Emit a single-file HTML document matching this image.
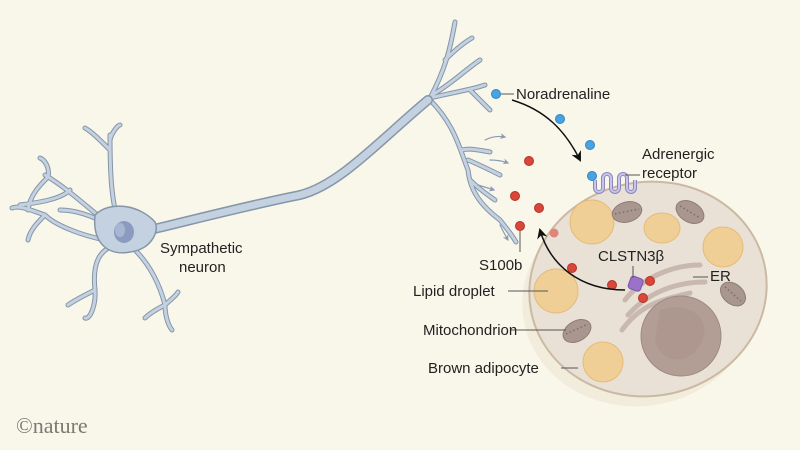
<!DOCTYPE html>
<html><head><meta charset="utf-8"><style>
html,body{margin:0;padding:0;background:#f9f6ea;}
svg{display:block}
text{font-family:"Liberation Sans",sans-serif;font-size:15px;fill:#222;}
</style></head><body>
<svg width="800" height="450" viewBox="0 0 800 450" xmlns="http://www.w3.org/2000/svg">
<rect width="800" height="450" fill="#f9f6ea"/>
<defs>
<marker id="ah" viewBox="0 0 10 10" refX="8" refY="5" markerWidth="7" markerHeight="7" orient="auto"><path d="M0,0 L10,5 L0,10 L3,5z" fill="#111"/></marker>
<marker id="ag" viewBox="0 0 10 10" refX="8" refY="5" markerWidth="5" markerHeight="5" orient="auto"><path d="M0,0 L10,5 L0,10 L3,5z" fill="#8a9bb0"/></marker>
</defs>
<!-- cell shadow -->
<ellipse cx="640" cy="300" rx="118" ry="106" fill="#f1ecdb" transform="rotate(-10 640 300)"/>
<!-- neuron -->
<g fill="none" stroke-linecap="round" stroke-linejoin="round">
<g stroke="#8596a8" stroke-width="5">
<path d="M110,225 C90,210 70,190 45,175 M70,190 C60,200 35,203 20,205 M48,177 C50,168 45,160 40,158 M48,177 C40,185 30,195 28,210"/>
<path d="M118,222 C112,200 110,180 110,135 M110,150 C100,140 92,132 85,128 M110,140 C112,132 118,125 120,125"/>
<path d="M110,225 C90,215 75,210 60,210 M105,240 C80,235 55,225 45,215 M45,215 C30,210 20,205 12,208 M45,215 C38,222 30,230 28,240"/>
<path d="M115,245 C100,250 92,262 95,290 C96,305 90,320 85,318 M95,290 C85,295 75,300 68,305"/>
<path d="M135,250 C150,265 160,285 165,305 C165,315 168,325 172,330 M165,305 C155,310 148,315 145,318 M165,305 C170,300 176,296 178,292"/>
<path d="M150,230 C200,218 250,205 300,195 C340,185 380,140 430,98 C445,70 450,50 455,22 M445,60 C455,50 465,42 472,38 M432,95 C450,85 465,70 480,60 M430,98 C455,92 470,90 485,85 M470,90 C478,98 485,105 490,110 M430,100 C455,125 460,150 468,170 C470,190 480,205 500,220 C508,230 512,235 516,242 M462,150 C470,148 478,150 490,152 M468,160 C480,165 490,170 500,175 M470,180 C480,190 488,195 495,200"/>
</g>
<g stroke="#c3d1e1" stroke-width="3">
<path d="M110,225 C90,210 70,190 45,175 M70,190 C60,200 35,203 20,205 M48,177 C50,168 45,160 40,158 M48,177 C40,185 30,195 28,210"/>
<path d="M118,222 C112,200 110,180 110,135 M110,150 C100,140 92,132 85,128 M110,140 C112,132 118,125 120,125"/>
<path d="M110,225 C90,215 75,210 60,210 M105,240 C80,235 55,225 45,215 M45,215 C30,210 20,205 12,208 M45,215 C38,222 30,230 28,240"/>
<path d="M115,245 C100,250 92,262 95,290 C96,305 90,320 85,318 M95,290 C85,295 75,300 68,305"/>
<path d="M135,250 C150,265 160,285 165,305 C165,315 168,325 172,330 M165,305 C155,310 148,315 145,318 M165,305 C170,300 176,296 178,292"/>
<path d="M150,230 C200,218 250,205 300,195 C340,185 380,140 430,98 C445,70 450,50 455,22 M445,60 C455,50 465,42 472,38 M432,95 C450,85 465,70 480,60 M430,98 C455,92 470,90 485,85 M470,90 C478,98 485,105 490,110 M430,100 C455,125 460,150 468,170 C470,190 480,205 500,220 C508,230 512,235 516,242 M462,150 C470,148 478,150 490,152 M468,160 C480,165 490,170 500,175 M470,180 C480,190 488,195 495,200"/>
</g>
<path d="M150,230 C200,218 250,205 300,195 C340,185 380,140 428,100" stroke="#8596a8" stroke-width="10"/>
<path d="M150,230 C200,218 250,205 300,195 C340,185 380,140 428,100" stroke="#c3d1e1" stroke-width="7"/>
<g stroke="#8a9bb0" stroke-width="1.2" marker-end="url(#ag)">
<path d="M485,140 Q495,135 505,137"/><path d="M490,160 Q500,160 508,163"/><path d="M478,185 Q488,188 494,190"/><path d="M500,225 Q505,235 508,240"/>
</g>
</g>
<path d="M95,215 C110,200 140,205 155,222 C160,232 150,250 130,252 C110,256 92,245 95,215z" fill="#c3d1e1" stroke="#8596a8" stroke-width="1.5"/>
<ellipse cx="124" cy="232" rx="10" ry="11" fill="#8b9bbf"/>
<ellipse cx="120" cy="230" rx="5" ry="7" fill="#a9b6d3"/>
<!-- cell -->
<ellipse cx="648" cy="289" rx="119" ry="107" fill="#e9e0d6" stroke="#cbb9a3" stroke-width="2" transform="rotate(-10 648 289)"/>
<g fill="#f0cf96" stroke="#e6bb78" stroke-width="1">
<circle cx="556" cy="291" r="22"/><circle cx="603" cy="362" r="20"/><circle cx="592" cy="222" r="22"/>
<ellipse cx="662" cy="228" rx="18" ry="15"/><circle cx="723" cy="247" r="20"/>
</g>
<g fill="#a8968f" stroke="#8e7c76">
<ellipse cx="577" cy="331" rx="15" ry="10" transform="rotate(-30 577 331)"/>
<ellipse cx="627" cy="212" rx="15" ry="10" transform="rotate(-15 627 212)"/>
<ellipse cx="690" cy="212" rx="15" ry="10" transform="rotate(30 690 212)"/>
<ellipse cx="733" cy="294" rx="14" ry="10" transform="rotate(40 733 294)"/>
</g>
<g stroke="#7d6c66" stroke-width="1.5" stroke-dasharray="1.5 2.5" fill="none">
<path d="M566,334 L588,324"/><path d="M615,214 L639,209"/><path d="M680,206 L700,218"/><path d="M725,287 L741,301"/>
</g>
<g fill="none" stroke="#c9b8b0" stroke-width="5" stroke-linecap="round">
<path d="M625,300 C640,280 670,265 700,265"/><path d="M628,315 C650,290 680,282 705,282"/><path d="M622,330 C640,305 660,300 690,293"/>
</g>
<circle cx="681" cy="336" r="40" fill="#b39e95" stroke="#9e8a82"/>
<path d="M660,310 C690,300 715,320 700,345 C690,365 660,365 655,340z" fill="#a8938a" opacity="0.6"/>
<!-- receptor -->
<g fill="none" stroke="#8b86c0" stroke-width="4"><path d="M595,180 v8 a4,4 0 0 0 8,0 v-10 a4,4 0 0 1 8,0 v10 a4,4 0 0 0 8,0 v-10 a4,4 0 0 1 8,0 v10 a4,4 0 0 0 8,0 v-8"/></g>
<g fill="none" stroke="#c9c6ea" stroke-width="2"><path d="M595,180 v8 a4,4 0 0 0 8,0 v-10 a4,4 0 0 1 8,0 v10 a4,4 0 0 0 8,0 v-10 a4,4 0 0 1 8,0 v10 a4,4 0 0 0 8,0 v-8"/></g>
<!-- dots -->
<g fill="#4aa3e0" stroke="#2f86c4"><circle cx="496" cy="94" r="4.5"/><circle cx="560" cy="119" r="4.5"/><circle cx="590" cy="145" r="4.5"/><circle cx="592" cy="176" r="4.5"/></g>
<g fill="#d7473a" stroke="#b73328"><circle cx="529" cy="161" r="4.5"/><circle cx="515" cy="196" r="4.5"/><circle cx="539" cy="208" r="4.5"/><circle cx="520" cy="226" r="4.5"/><circle cx="572" cy="268" r="4.5"/><circle cx="612" cy="285" r="4.5"/><circle cx="650" cy="281" r="4.5"/><circle cx="643" cy="298" r="4.5"/></g>
<circle cx="554" cy="233" r="4.5" fill="#e0857a"/>
<rect x="629" y="277" width="13" height="13" rx="3" fill="#9a72c8" stroke="#7a55a8" transform="rotate(20 635 284)"/>
<!-- arrows -->
<path d="M512,100 C545,110 565,130 580,160" fill="none" stroke="#111" stroke-width="1.5" marker-end="url(#ah)"/>
<path d="M625,290 C580,290 550,265 540,230" fill="none" stroke="#111" stroke-width="1.5" marker-end="url(#ah)"/>
<!-- leaders -->
<g stroke="#555" stroke-width="1" fill="none">
<path d="M501,94 H514"/><path d="M625,175 H640"/><path d="M520,231 V252"/><path d="M633,266 V278"/><path d="M693,277 H708"/>
<path d="M508,291 H548"/><path d="M510,330 H566"/><path d="M561,368 H578"/>
</g>
<!-- text -->
<text x="516" y="99">Noradrenaline</text>
<text x="642" y="159">Adrenergic</text>
<text x="642" y="178">receptor</text>
<text x="479" y="270">S100b</text>
<text x="598" y="261">CLSTN3β</text>
<text x="710" y="281">ER</text>
<text x="413" y="296">Lipid droplet</text>
<text x="423" y="335">Mitochondrion</text>
<text x="428" y="373">Brown adipocyte</text>
<text x="160" y="253">Sympathetic</text>
<text x="179" y="272">neuron</text>
<text x="16" y="433" style="font-family:'Liberation Serif',serif;font-size:22px;fill:#7a7a72">©nature</text>
</svg>
</body></html>
